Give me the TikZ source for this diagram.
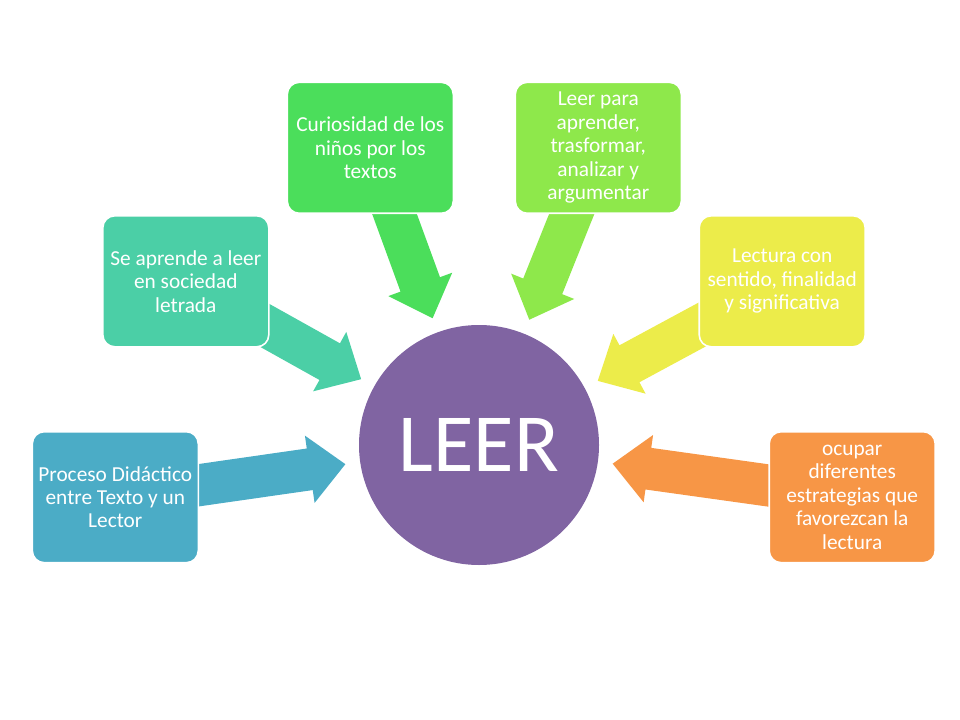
\documentclass[tikz,border=0pt]{standalone}
\usepackage{fontspec}
\setmainfont{Carlito}
\usepackage{tikz}
\usetikzlibrary{calc}
\usetikzlibrary{backgrounds}
\definecolor{leerpurple}{RGB}{128,100,162}
\definecolor{cblue}{RGB}{75,172,198}
\definecolor{cteal}{RGB}{75,207,166}
\definecolor{cgreen}{RGB}{75,222,91}
\definecolor{clgreen}{RGB}{142,232,75}
\definecolor{cyellow}{RGB}{236,236,74}
\definecolor{corange}{RGB}{247,150,70}
\newcommand{\widthbox}{124.5pt}
\newcommand{\heightbox}{98.25pt}
\tikzset{
    box/.style={draw=white, line width=1.2pt, rounded corners=9pt, minimum width=\widthbox, minimum height=\heightbox,
        inner sep=0pt, align=center, text=white, font=\fontsize{16}{17.6}\selectfont},
    hub/.style={circle, fill=leerpurple, minimum size=180pt, inner sep=0pt, text=white, font=\fontsize{62}{62}\selectfont}
}

\begin{document}
\begin{tikzpicture}[x=0.75pt, y=-0.75pt]
      \useasboundingbox (0,0) rectangle (960,720);

      \path
          (479,449) node[hub, yshift=3pt] (leer) {LEER}
          (115.3,497.2) node[box, fill=cblue] (proceso) {Proceso Didáctico\\entre Texto y un\\Lector}
          (185.8,281.3) node[box, fill=cteal] (sociedad) {Se aprende a leer\\en sociedad\\letrada}
          (370.3,147.8) node[box, fill=cgreen] (curiosidad) {Curiosidad de los\\niños por los\\textos}
          (598.3,147.8) node[box, fill=clgreen] (aprender) {Leer para\\aprender,\\trasformar,\\analizar y\\argumentar}
          (782.2,281.3) node[box, fill=cyellow] (sentido) {Lectura con\\sentido, finalidad\\y significativa}
          (852.2,497.2) node[box, fill=corange] (estrategias) {ocupar\\diferentes\\estrategias que\\favorezcan la\\lectura};

      \begin{scope}[on background layer]
          \foreach \b/\c in {proceso/cblue, sociedad/cteal, curiosidad/cgreen, aprender/clgreen, sentido/cyellow, estrategias/corange} {
              \coordinate (tip) at ($(leer.center)!101.25pt!(\b)$);
              \coordinate (base) at ($(leer.center)!128.25pt!(\b)$);
              \fill[\c] ($(\b)!15.75pt!90:(leer.center)$) -- ($(base)!15.75pt!90:(leer.center)$)
                  -- ($(base)!25.5pt!90:(leer.center)$) -- (tip) -- ($(base)!25.5pt!-90:(leer.center)$)
                  -- ($(base)!15.75pt!-90:(leer.center)$) -- ($(\b)!15.75pt!-90:(leer.center)$) -- cycle;
          }
      \end{scope}
    \end{tikzpicture}
\end{document}
